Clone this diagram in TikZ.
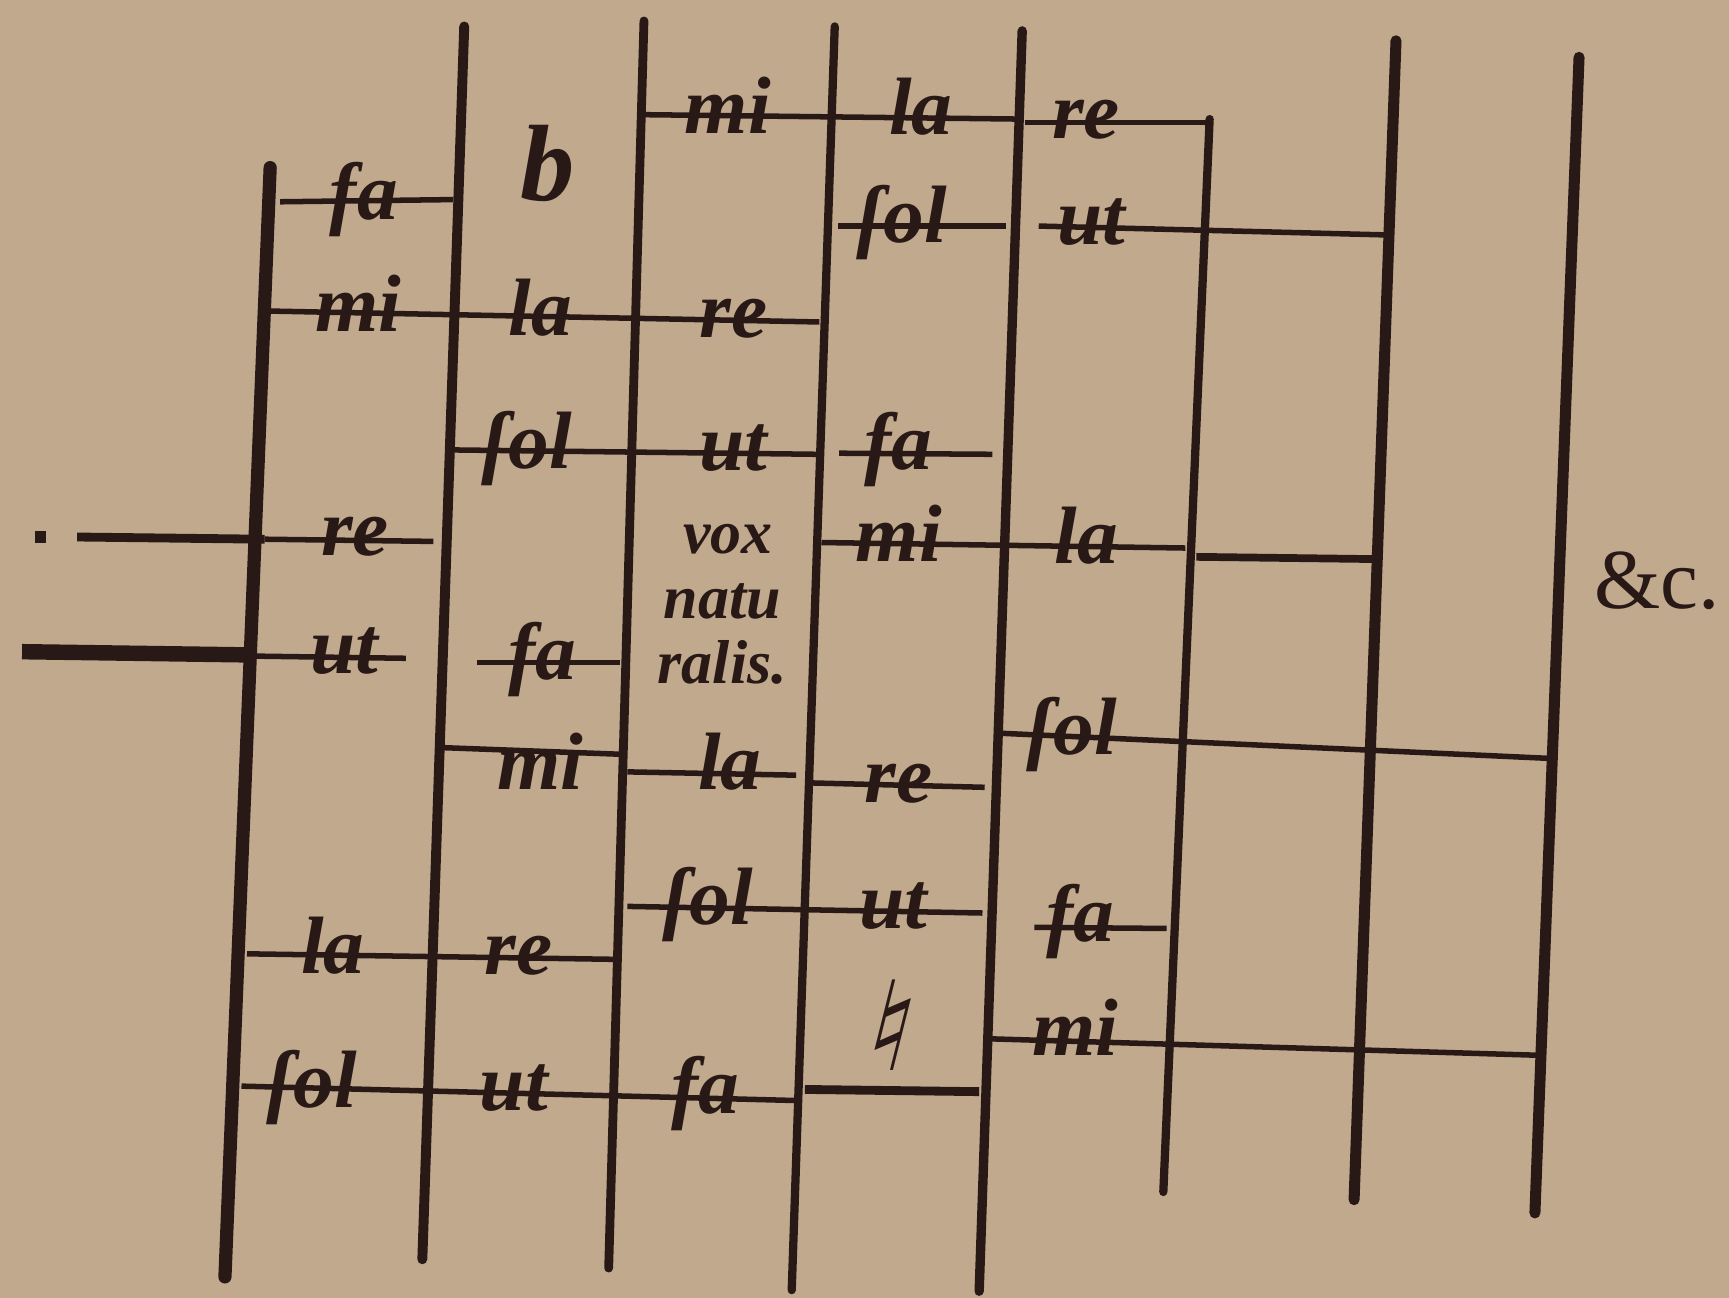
\documentclass[tikz,border=0pt]{standalone}
\usepackage{fontspec}
\setmainfont{Liberation Serif}
\newfontfamily\symfont{DejaVu Sans}
\definecolor{parch}{RGB}{192,169,141}
\definecolor{ink}{RGB}{40,25,22}

\begin{document}
\begin{tikzpicture}[x=0.1mm, y=-0.1mm,
  rule/.style={draw=ink, line width=0.9mm, line cap=round},
  bar/.style={draw=ink, line width=0.5mm},
  syl/.style={anchor=base, inner sep=0pt, text=ink, font=\fontsize{21}{23}\selectfont\bfseries\itshape},
  vox/.style={anchor=base, inner sep=0pt, text=ink, font=\fontsize{16}{18}\selectfont\bfseries\itshape}]
\fill[parch] (0,0) rectangle (1568,1177);
\useasboundingbox (0,0) rectangle (1568,1177);

% vertical rules, left to right
\draw[rule, line width=1.2mm] (245,152) -- (204,1158);
\draw[rule] (421,24) -- (383,1142);
\draw[rule, line width=0.8mm] (584,19) -- (552,1150);
\draw[rule, line width=0.75mm] (757,24) -- (718,1170);
\draw[rule, line width=0.85mm] (927,28) -- (888,1171);
\draw[rule, line width=0.75mm] (1097,108) -- (1055,1081);
\draw[rule, line width=1mm] (1266,37) -- (1228,1088);
\draw[rule, line width=1mm] (1432,52) -- (1392,1100);

% cross bars
\draw[bar] (584,104) -- (925,108);
\draw[bar] (930,111) -- (1097,111);
\draw[bar] (254,183) -- (411,181);
\draw[bar] (760,205) -- (912,205);
\draw[bar] (942,205) -- (1255,213);
\draw[bar] (240,282) -- (743,292);
\draw[bar] (408,408) -- (741,412);
\draw[bar] (761,411) -- (900,412);
\fill[ink] (32,482) rectangle (42,492);
\draw[bar, line width=0.8mm] (70,487) -- (240,489);
\draw[bar] (240,489) -- (393,491);
\draw[ink, line width=1.4mm] (20,591) -- (230,594);
\draw[bar] (230,595) -- (368,597);
\draw[bar] (745,492) -- (1075,497);
\draw[bar, line width=0.7mm] (1085,505) -- (1245,507);
\draw[bar] (433,601) -- (562,601);
\draw[bar] (908,665) -- (1410,688);
\draw[bar] (401,678) -- (562,684);
\draw[bar] (569,700) -- (722,703);
\draw[bar] (735,710) -- (893,714);
\draw[bar] (569,822) -- (891,828);
\draw[bar] (938,841) -- (1058,842);
\draw[bar] (224,865) -- (557,870);
\draw[bar] (895,942) -- (1395,957);
\draw[bar] (219,985) -- (720,998);
\draw[bar, line width=0.8mm] (730,988) -- (888,990);

% syllables
\node[syl] (c1fa) at (330,199) {fa};
\node[syl] (c1mi) at (325,301) {mi};
\node[syl] (c1re) at (322,504) {re};
\node[syl] (c1ut) at (312,611) {ut};
\node[syl] (c1la) at (302,883) {la};
\node[syl] (c1sol) at (283,1004) {ſol};
\node[syl, font=\fontsize{28}{30}\selectfont\bfseries\itshape] (c2b) at (497,182) {b};
\node[syl] (c2la) at (490,304) {la};
\node[syl] (c2sol) at (478,425) {ſol};
\node[syl] (c2fa) at (492,616) {fa};
\node[syl] (c2mi) at (490,716) {mi};
\node[syl] (c2re) at (470,884) {re};
\node[syl] (c2ut) at (466,1007) {ut};
\node[syl] (c3mi) at (660,121) {mi};
\node[syl] (c3re) at (665,306) {re};
\node[syl] (c3ut) at (665,427) {ut};
\node[vox] (c3vox) at (660,502) {vox};
\node[vox] (c3natu) at (655,561) {natu};
\node[vox] (c3ralis) at (655,620) {ralis.};
\node[syl] (c3la) at (662,716) {la};
\node[syl] (c3sol) at (642,838) {ſol};
\node[syl] (c3fa) at (640,1010) {fa};
\node[syl] (c4la) at (835,122) {la};
\node[syl] (c4sol) at (818,220) {ſol};
\node[syl] (c4fa) at (815,426) {fa};
\node[syl] (c4mi) at (815,509) {mi};
\node[syl] (c4re) at (815,728) {re};
\node[syl] (c4ut) at (810,842) {ut};
\node[text=ink, inner sep=0pt, font=\symfont\bfseries\fontsize{32}{34}\selectfont, xslant=0.25] (c4nat) at (810,930) {♮};
\node[syl] (c5re) at (985,126) {re};
\node[syl] (c5ut) at (990,222) {ut};
\node[syl] (c5la) at (985,511) {la};
\node[syl] (c5sol) at (972,684) {ſol};
\node[syl] (c5fa) at (980,854) {fa};
\node[syl] (c5mi) at (975,957) {mi};
\node[text=ink, inner sep=0pt, font=\fontsize{22}{24}\selectfont] (etc) at (1503,527) {\&c.};
\end{tikzpicture}
\end{document}
